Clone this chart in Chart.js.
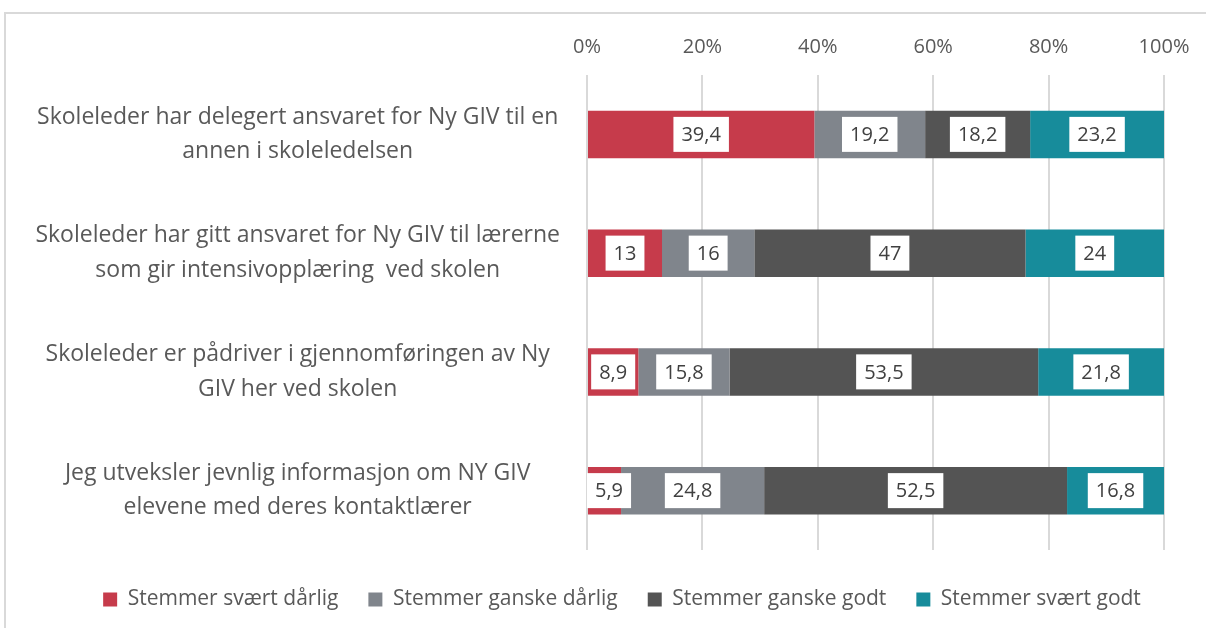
<!DOCTYPE html>
<html>
<head>
<meta charset="utf-8">
<script src="https://cdn.jsdelivr.net/npm/chart.js@4.4.1/dist/chart.umd.min.js"></script>
<style>
  html, body { margin: 0; padding: 0; background: #ffffff; }
  #wrap { position: relative; width: 1206px; height: 628px; }
  #frame { position: absolute; left: 4px; top: 12px; right: -10px; bottom: -10px;
           border-top: 2px solid #d9d9d9; border-left: 2px solid #d9d9d9; }
  canvas { position: absolute; left: 0; top: 0; }
</style>
</head>
<body>
<div id="wrap">
  <div id="frame"></div>
  <canvas id="c" width="1206" height="628"></canvas>
</div>
<script>
const categories = [
  ["Skoleleder har delegert ansvaret for Ny GIV til en", "annen i skoleledelsen"],
  ["Skoleleder har gitt ansvaret for Ny GIV til lærerne", "som gir intensivopplæring  ved skolen"],
  ["Skoleleder er pådriver i gjennomføringen av Ny", "GIV her ved skolen"],
  ["Jeg utveksler jevnlig informasjon om NY GIV", "elevene med deres kontaktlærer"]
];
const seriesNames = ["Stemmer svært dårlig", "Stemmer ganske dårlig", "Stemmer ganske godt", "Stemmer svært godt"];
const svaertDarlig = [39.4, 13, 8.9, 5.9];
const ganskeDarlig = [19.2, 16, 15.8, 24.8];
const ganskeGodt = [18.2, 47, 53.5, 52.5];
const svaertGodt = [23.2, 24, 21.8, 16.8];
const tickValues = [0, 20, 40, 60, 80, 100];
const colors = ["#C63B4B", "#80858C", "#545454", "#178C9B"];

const FONT = "'Open Sans', sans-serif";

const labelBoxes = {
  id: 'labelBoxes',
  afterDatasetsDraw(chart) {
    const ctx = chart.ctx;
    ctx.save();
    ctx.font = "20px " + FONT;
    ctx.textAlign = 'center';
    ctx.textBaseline = 'middle';
    chart.data.datasets.forEach((ds, di) => {
      const meta = chart.getDatasetMeta(di);
      meta.data.forEach((el, i) => {
        const v = ds.data[i];
        const txt = String(v).replace('.', ',');
        const cx = (el.x + el.base) / 2;
        const cy = el.y;
        const w = ctx.measureText(txt).width + 16;
        const h = 35;
        let left = cx - w / 2;
        if (left < chart.chartArea.left) left = chart.chartArea.left;
        ctx.fillStyle = '#ffffff';
        ctx.fillRect(left, cy - h / 2, w, h);
        ctx.fillStyle = '#404040';
        ctx.fillText(txt, left + w / 2, cy + 1);
      });
    });
    ctx.restore();
  }
};

const legendShift = {
  id: 'legendShift',
  afterLayout(chart) {
    if (chart.legend) {
      chart.legend.left += 40;
      chart.legend.right += 40;
    }
  }
};

new Chart(document.getElementById('c'), {
  type: 'bar',
  data: {
    labels: categories,
    datasets: [svaertDarlig, ganskeDarlig, ganskeGodt, svaertGodt].map((d, i) => ({
      label: seriesNames[i],
      data: d,
      backgroundColor: colors[i],
      borderWidth: 0,
      categoryPercentage: 1,
      barPercentage: 0.4
    }))
  },
  options: {
    indexAxis: 'y',
    responsive: false,
    animation: false,
    layout: { padding: { top: 19, right: 42, bottom: 8, left: 0 } },
    plugins: {
      tooltip: { enabled: false },
      legend: {
        position: 'bottom',
        labels: {
          font: { family: FONT, size: 21 },
          color: '#595959',
          boxWidth: 14,
          boxHeight: 14,
          padding: 30
        }
      }
    },
    scales: {
      x: {
        position: 'top',
        stacked: true,
        min: 0,
        max: 100,
        afterBuildTicks(scale) { scale.ticks = tickValues.map(v => ({ value: v })); },
        ticks: {
          callback: v => v + '%',
          font: { family: FONT, size: 20 },
          color: '#595959',
          padding: 16
        },
        grid: { color: '#d9d9d9', lineWidth: 2, drawTicks: false },
        border: { display: false }
      },
      xGap: {
        type: 'linear',
        position: 'bottom',
        display: true,
        afterFit(scale) { scale.height = 9; },
        ticks: { display: false },
        grid: { display: false, drawTicks: false },
        border: { display: false }
      },
      y: {
        stacked: true,
        afterFit(scale) { scale.width = 587; },
        ticks: {
          font: { family: FONT, size: 23, lineHeight: 1.5 },
          color: '#595959',
          crossAlign: 'center',
          padding: 27
        },
        grid: { display: false, drawTicks: false },
        border: { display: false }
      }
    }
  },
  plugins: [labelBoxes, legendShift]
});
</script>
</body>
</html>
